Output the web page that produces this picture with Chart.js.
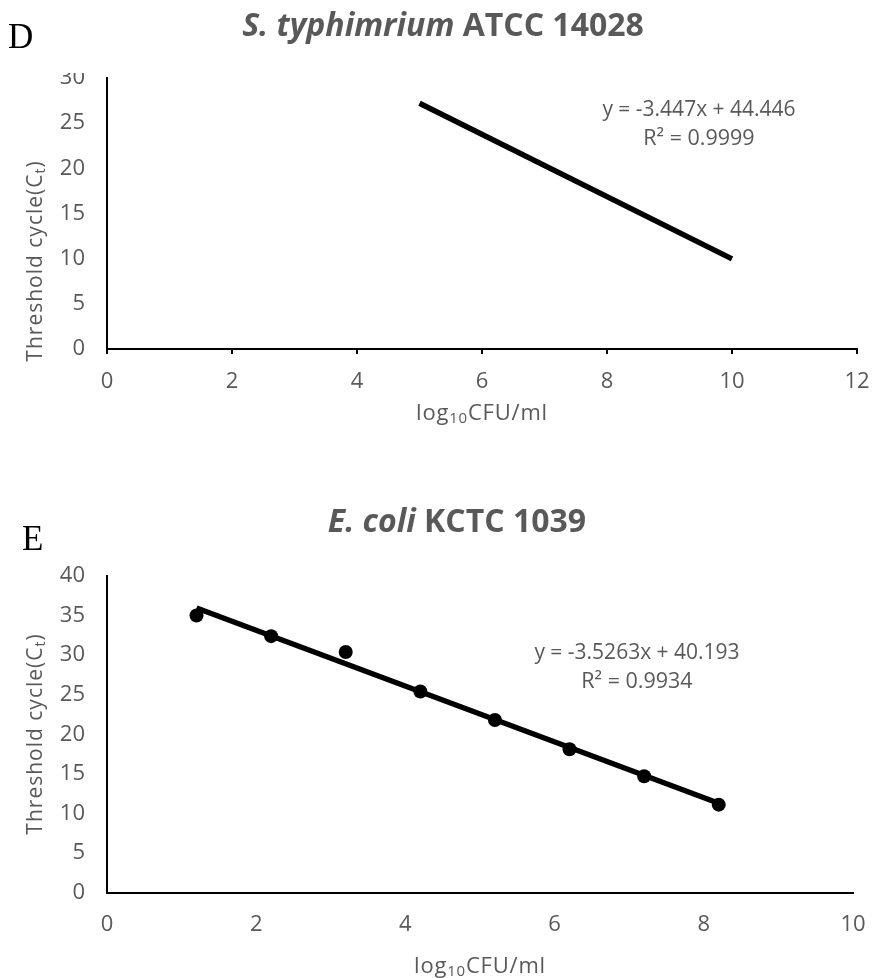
<!DOCTYPE html>
<html>
<head>
<meta charset="utf-8">
<title>Standard curves</title>
<script src="https://cdn.jsdelivr.net/npm/chart.js@4.4.1/dist/chart.umd.min.js"></script>
<style>
	html, body { margin: 0; padding: 0; background: #fff; }
	.panel { position: absolute; left: 0; width: 873px; }
	#panelD { top: 0; height: 470px; }
	#panelE { top: 470px; height: 508px; }
</style>
</head>
<body>
<div class="panel" id="panelD"><canvas id="chartD" width="873" height="470"></canvas></div>
<div class="panel" id="panelE"><canvas id="chartE" width="873" height="508"></canvas></div>
<script>
// S. typhimurium ATCC 14028 - only the fitted line is shown
const stFit = [-3.447, 44.446] // slope, intercept
const stFitRange = [5, 10]
const stR2 = '0.9999'
const stXTicks = [0, 12, 2] // min, max, step
const stYTicks = [0, 30, 5]

// E. coli KCTC 1039 - Ct per dilution
const ecLogCfu = [1.2, 2.2, 3.2, 4.2, 5.2, 6.2, 7.2, 8.2]
const ecCt = [35.0, 32.4, 30.4, 25.4, 21.8, 18.1, 14.7, 11.1]
const ecFit = [-3.5263, 40.193]
const ecFitRange = [1.2, 8.2]
const ecR2 = '0.9934'
const ecXTicks = [0, 10, 2]
const ecYTicks = [0, 40, 5]

const GREY = '#595959'
const SANS = '"Open Sans", "Noto Sans", sans-serif'
const SERIF = '"Liberation Serif", "DejaVu Serif", serif'

function fitLine(fit, range) {
	return range.map(x => ({ x: x, y: fit[0] * x + fit[1] }))
}

function equation(fit) {
	return 'y = ' + fit[0] + 'x + ' + fit[1]
}

// draw a row of text runs (font / offset per run), centred or left aligned
function drawRuns(ctx, runs, x, y, align) {
	let total = 0
	runs.forEach(r => {
		ctx.font = r.font
		ctx.letterSpacing = r.spacing || '0px'
		r.w = ctx.measureText(r.text).width
		total += r.w
	})
	let cx = align === 'center' ? x - total / 2 : x
	ctx.textAlign = 'left'
	runs.forEach(r => {
		ctx.font = r.font
		ctx.letterSpacing = r.spacing || '0px'
		ctx.fillText(r.text, cx, y + (r.dy || 0))
		cx += r.w
	})
	ctx.letterSpacing = '0px'
}

const yTitleRuns = [
	{ text: 'Threshold cycle(C', font: '21px ' + SANS, spacing: '1px' },
	{ text: 't', font: '14px ' + SANS, dy: 5, spacing: '1px' },
	{ text: ')', font: '21px ' + SANS, spacing: '1px' },
]
const xTitleRuns = [
	{ text: 'log', font: '22px ' + SANS, spacing: '0.8px' },
	{ text: '10', font: '15px ' + SANS, dy: 5, spacing: '0.8px' },
	{ text: 'CFU/ml', font: '22px ' + SANS, spacing: '0.8px' },
]

// panel letter, title, axis titles and trendline label
const decor = {
	id: 'decor',
	afterDraw(chart, args, opts) {
		const ctx = chart.ctx
		const area = chart.chartArea
		ctx.save()
		ctx.textBaseline = 'alphabetic'

		if (opts.cropTop) {
			ctx.fillStyle = '#fff'
			ctx.fillRect(opts.cropTop[0], 0, opts.cropTop[1], opts.cropTop[2])
		}

		ctx.fillStyle = '#000'
		ctx.font = '35px ' + SERIF
		ctx.textAlign = 'left'
		ctx.fillText(opts.letter, opts.letterPos[0], opts.letterPos[1])

		ctx.fillStyle = GREY
		drawRuns(ctx, opts.title, opts.titlePos[0], opts.titlePos[1], 'center')

		ctx.textBaseline = 'middle'
		drawRuns(ctx, [{ text: opts.eq[0], font: '21px ' + SANS }], opts.eqPos[0], opts.eqPos[1], 'center')
		drawRuns(ctx, [{ text: opts.eq[1], font: '21.5px ' + SANS }], opts.eqPos[0], opts.eqPos[1] + 29, 'center')

		drawRuns(ctx, xTitleRuns, (area.left + area.right) / 2, opts.xTitleY, 'center')

		ctx.translate(36, opts.yTitleY)
		ctx.rotate(-Math.PI / 2)
		drawRuns(ctx, yTitleRuns, 0, 0, 'center')
		ctx.restore()
	},
}

function axes(xt, yt, xTickMarks, xPad) {
	const tickFont = { family: SANS, size: 22 }
	return {
		x: {
			type: 'linear',
			min: xt[0],
			max: xt[1],
			ticks: { stepSize: xt[2], color: GREY, font: tickFont, padding: xPad },
			grid: {
				display: xTickMarks,
				drawOnChartArea: false,
				drawTicks: xTickMarks,
				tickLength: 5,
				color: '#000',
				lineWidth: 2,
			},
			border: { display: true, color: '#000', width: 2 },
			afterFit: s => {
				// fixed plot box: the end labels may overhang it
				s.height = 60
				s.paddingLeft = 0
				s.paddingRight = 0
			},
		},
		y: {
			type: 'linear',
			min: yt[0],
			max: yt[1],
			ticks: { stepSize: yt[2], color: GREY, font: tickFont, padding: 22 },
			grid: { display: false, drawTicks: false },
			border: { display: true, color: '#000', width: 2 },
			afterFit: s => {
				s.width = 107
				s.paddingTop = 0
				s.paddingBottom = 0
			},
		},
	}
}

new Chart(document.getElementById('chartD'), {
	type: 'scatter',
	data: {
		datasets: [
			{
				data: fitLine(stFit, stFitRange),
				showLine: true,
				borderColor: '#000',
				borderWidth: 5.5,
				pointRadius: 0,
			},
		],
	},
	options: {
		responsive: false,
		animation: false,
		layout: { padding: { left: 0, right: 16, top: 78, bottom: 61 } },
		scales: axes(stXTicks, stYTicks, true, 15),
		plugins: {
			legend: { display: false },
			tooltip: { enabled: false },
			decor: {
				letter: 'D',
				letterPos: [8, 48],
				title: [
					{ text: 'S. typhimrium', font: 'italic bold 32px ' + SANS },
					{ text: ' ATCC 14028', font: 'bold 32px ' + SANS },
				],
				titlePos: [443, 36],
				eq: [equation(stFit), 'R² = ' + stR2],
				eqPos: [699, 110],
				xTitleY: 414,
				yTitleY: 261,
				cropTop: [55, 45, 73],
			},
		},
	},
	plugins: [decor],
})

new Chart(document.getElementById('chartE'), {
	type: 'scatter',
	data: {
		datasets: [
			{
				data: ecLogCfu.map((x, i) => ({ x: x, y: ecCt[i] })),
				pointRadius: 7,
				pointBackgroundColor: '#000',
				pointBorderWidth: 0,
			},
			{
				data: fitLine(ecFit, ecFitRange),
				showLine: true,
				borderColor: '#000',
				borderWidth: 5.5,
				pointRadius: 0,
			},
		],
	},
	options: {
		responsive: false,
		animation: false,
		layout: { padding: { left: 0, right: 20, top: 106, bottom: 25.5 } },
		scales: axes(ecXTicks, ecYTicks, false, 19),
		plugins: {
			legend: { display: false },
			tooltip: { enabled: false },
			decor: {
				letter: 'E',
				letterPos: [22, 80],
				title: [
					{ text: 'E. coli', font: 'italic bold 32px ' + SANS },
					{ text: ' KCTC 1039', font: 'bold 32px ' + SANS },
				],
				titlePos: [457, 62],
				eq: [equation(ecFit), 'R² = ' + ecR2],
				eqPos: [637, 183],
				xTitleY: 497,
				yTitleY: 264,
			},
		},
	},
	plugins: [decor],
})
</script>
</body>
</html>
